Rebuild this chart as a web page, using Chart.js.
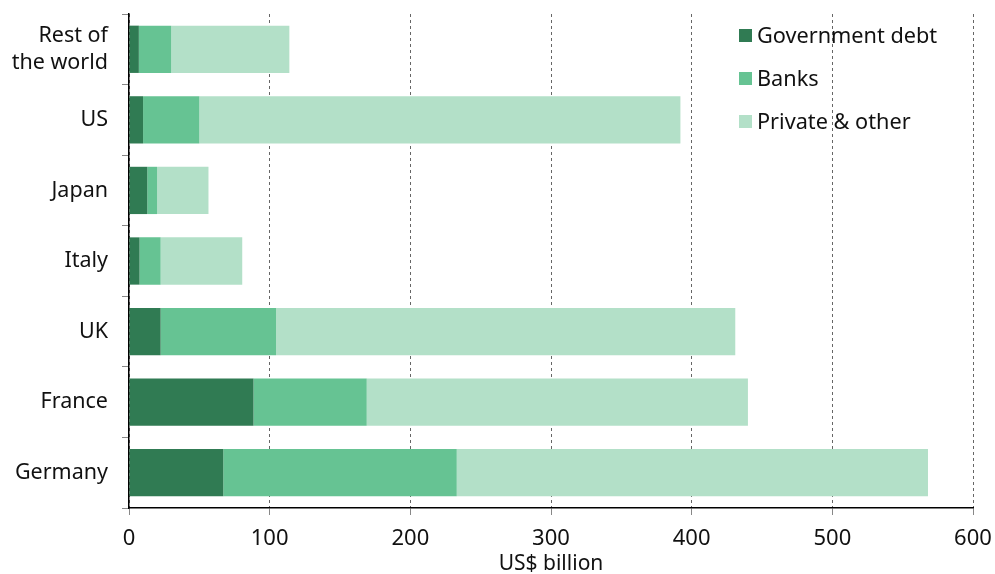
<!DOCTYPE html>
<html>
<head>
<meta charset="utf-8">
<script src="https://cdn.jsdelivr.net/npm/chart.js@4"></script>
<style>
  html, body { margin: 0; padding: 0; background: #fff; }
  #wrap { position: relative; width: 995px; height: 574px; }
  #legend { position: absolute; left: 739px; top: 17px; font-family: "Noto Sans", sans-serif; font-size: 21.7px; color: #111; }
  #legend div { height: 43px; line-height: 36px; white-space: nowrap; }
  #legend span { display: inline-block; width: 13px; height: 13px; margin-right: 5px; vertical-align: 1px; }
</style>
</head>
<body>
<div id="wrap">
  <canvas id="grafico" width="995" height="574"></canvas>
  <div id="legend"></div>
</div>
<script>
// dados (US$ bilhões)
const paises = [['Rest of', 'the world'], 'US', 'Japan', 'Italy', 'UK', 'France', 'Germany'];
const dividaGoverno = [7, 10, 13, 7.5, 22.5, 88.5, 67];
const bancos = [23, 40, 7, 15, 82, 80.5, 166];
const privadoOutros = [84, 342, 36.5, 58, 326.5, 271, 335];
const series = ['Government debt', 'Banks', 'Private & other'];
const ticksX = [0, 100, 200, 300, 400, 500, 600];

const cores = ['#307b53', '#66c393', '#b3e0c8'];
const fonte = '"Noto Sans", sans-serif';

// legenda
const leg = document.getElementById('legend');
series.forEach((nome, i) => {
    const d = document.createElement('div');
    const s = document.createElement('span');
    s.style.background = cores[i];
    d.appendChild(s);
    d.appendChild(document.createTextNode(nome));
    leg.appendChild(d);
});

const ctx = document.getElementById('grafico').getContext('2d');
new Chart(ctx, {
    type: 'bar',
    data: {
        labels: paises,
        datasets: [dividaGoverno, bancos, privadoOutros].map((d, i) => ({
            label: series[i],
            data: d,
            backgroundColor: cores[i],
            borderWidth: 0,
            barPercentage: 0.67,
            categoryPercentage: 1
        }))
    },
    options: {
        indexAxis: 'y',
        responsive: false,
        animation: false,
        layout: { padding: { top: 14, right: 22, left: 0, bottom: 0 } },
        plugins: { legend: { display: false }, tooltip: { enabled: false } },
        scales: {
            x: {
                stacked: true,
                min: 0, max: 600,
                afterBuildTicks: s => { s.ticks = ticksX.map(v => ({ value: v })); },
                afterFit: s => { s.height = 66; s.paddingLeft = 0; s.paddingRight = 0; },
                border: { color: '#000', width: 1.5, dash: [3, 3] },
                grid: { color: '#666', tickLength: 7, tickBorderDash: [], tickColor: '#888' },
                ticks: { color: '#111', font: { family: fonte, size: 22 }, padding: 11, maxRotation: 0 },
                title: { display: true, text: 'US$ billion', color: '#111', font: { family: fonte, size: 21, lineHeight: 0.95 }, padding: { top: 0, bottom: 0 } }
            },
            y: {
                stacked: true,
                afterFit: s => { s.width = 129; s.paddingTop = 0; s.paddingBottom = 0; },
                border: { color: '#000', width: 1.5 },
                grid: { offset: true, drawOnChartArea: false, tickLength: 7, color: '#888' },
                ticks: { color: '#111', font: { family: fonte, size: 21.5, lineHeight: 1.25 }, padding: 14 }
            }
        }
    }
});
</script>
</body>
</html>
